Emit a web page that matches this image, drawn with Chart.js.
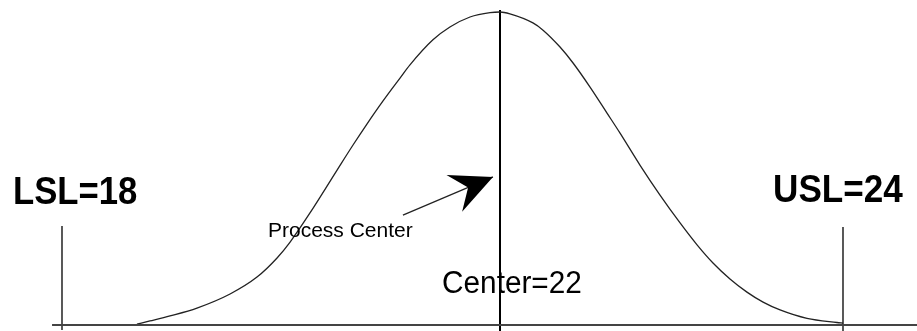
<!DOCTYPE html>
<html>
<head>
<meta charset="utf-8">
<script src="https://cdn.jsdelivr.net/npm/chart.js@4.4.1/dist/chart.umd.min.js"></script>
<style>
  html, body { margin: 0; padding: 0; background: #fff; }
  #wrap { width: 917px; height: 331px; position: relative; }
</style>
</head>
<body>
<div id="wrap"><canvas id="myChart"></canvas></div>
<script>
// process value (x) vs relative frequency (y, peak = 1)
const curveX = [19.883, 19.959, 20.076, 20.233, 20.426, 20.583, 20.700, 20.776, 20.892, 21.050,
    21.143, 21.224, 21.318, 21.417, 21.475, 21.609, 21.708, 21.825, 21.942, 22.000,
    22.058, 22.192, 22.251, 22.350, 22.426, 22.525, 22.624, 22.700, 22.816, 22.933,
    23.050, 23.149, 23.242, 23.341, 23.440, 23.534, 23.633, 23.790, 23.965, 24.000];
const curveY = [0.003, 0.013, 0.029, 0.054, 0.099, 0.153, 0.214, 0.265, 0.358, 0.495,
    0.575, 0.642, 0.716, 0.789, 0.831, 0.911, 0.952, 0.984, 0.998, 1.000,
    0.994, 0.965, 0.942, 0.888, 0.837, 0.760, 0.677, 0.613, 0.511, 0.415,
    0.326, 0.256, 0.198, 0.147, 0.105, 0.073, 0.048, 0.021, 0.008, 0.006];

// spec lines: LSL, center, USL (the sketch is not to scale, LSL sits where it was drawn)
const specLabels = ['LSL=18', 'Center=22', 'USL=24'];
const specLineX = [19.446, 22, 24];
const specLineTop = [0.316, 1.006, 0.313];
const specLineBottom = [-0.016, -0.019, -0.019];
// where each label starts (x) and its baseline (y), in data units
const specLabelX = [19.160, 21.662, 23.592];
const specLabelY = [0.387, 0.102, 0.393];

const baseX = [19.388, 24.4315];
const baseY = [0, 0];

// "Process Center" note and its arrow
const noteText = 'Process Center';
const noteX = 20.647, noteY = 0.281;
const arrowX = [21.434, 21.959];
const arrowY = [0.351, 0.473];

const xMin = 19.0845, xMax = 24.4315;
const yMin = -0.01917, yMax = 1.0383;

const pts = (xs, ys) => xs.map((x, i) => ({ x, y: ys[i] }));

const lineSet = (data, color, width) => ({
    data,
    showLine: true,
    borderColor: color,
    borderWidth: width,
    pointRadius: 0,
    fill: false,
    clip: false,
});

const datasets = [
    lineSet(pts(baseX, baseY), '#444', 2),
    Object.assign(lineSet(pts(curveX, curveY), '#222', 1.3), { cubicInterpolationMode: 'monotone' }),
    lineSet(pts(arrowX, arrowY), '#222', 1.3),
];
specLineX.forEach((x, i) => {
    datasets.push(lineSet(pts([x, x], [specLineBottom[i], specLineTop[i]]), i === 1 ? '#000' : '#222', i === 1 ? 2 : 1.5));
});

const textPlugin = {
    id: 'sketchText',
    afterDatasetsDraw(chart) {
        const ctx = chart.ctx;
        const xs = chart.scales.x, ys = chart.scales.y;
        const put = (txt, x, y, font, sx) => {
            ctx.save();
            ctx.translate(xs.getPixelForValue(x), ys.getPixelForValue(y));
            ctx.scale(sx, 1);
            ctx.font = font;
            ctx.fillStyle = '#000';
            ctx.textAlign = 'left';
            ctx.textBaseline = 'alphabetic';
            ctx.fillText(txt, 0, 0);
            ctx.restore();
        };
        put(specLabels[0], specLabelX[0], specLabelY[0], 'bold 39px "Liberation Sans", Arial', 0.89);
        put(specLabels[1], specLabelX[1], specLabelY[1], '31px "Liberation Sans", Arial', 0.96);
        put(specLabels[2], specLabelX[2], specLabelY[2], 'bold 39px "Liberation Sans", Arial', 0.9);
        put(noteText, noteX, noteY, '21px "Liberation Sans", Arial', 1);

        // arrow head at the end of the arrow line
        const x0 = xs.getPixelForValue(arrowX[0]), y0 = ys.getPixelForValue(arrowY[0]);
        const x1 = xs.getPixelForValue(arrowX[1]), y1 = ys.getPixelForValue(arrowY[1]);
        const ang = Math.atan2(y1 - y0, x1 - x0);
        ctx.save();
        ctx.translate(x1, y1);
        ctx.rotate(ang);
        ctx.beginPath();
        ctx.moveTo(0, 0);
        ctx.lineTo(-42, -20);
        ctx.lineTo(-27, 0);
        ctx.lineTo(-42, 20);
        ctx.closePath();
        ctx.fillStyle = '#000';
        ctx.fill();
        ctx.restore();
    }
};

const cts = document.querySelector('#myChart').getContext('2d');

const myChart = new Chart(cts, {
    type: 'scatter',
    data: { datasets },
    options: {
        responsive: true,
        maintainAspectRatio: false,
        animation: false,
        layout: { padding: 0 },
        plugins: {
            legend: { display: false },
            tooltip: { enabled: false },
        },
        scales: {
            x: { type: 'linear', min: xMin, max: xMax, display: false },
            y: { type: 'linear', min: yMin, max: yMax, display: false },
        },
    },
    plugins: [textPlugin],
});
</script>
</body>
</html>
